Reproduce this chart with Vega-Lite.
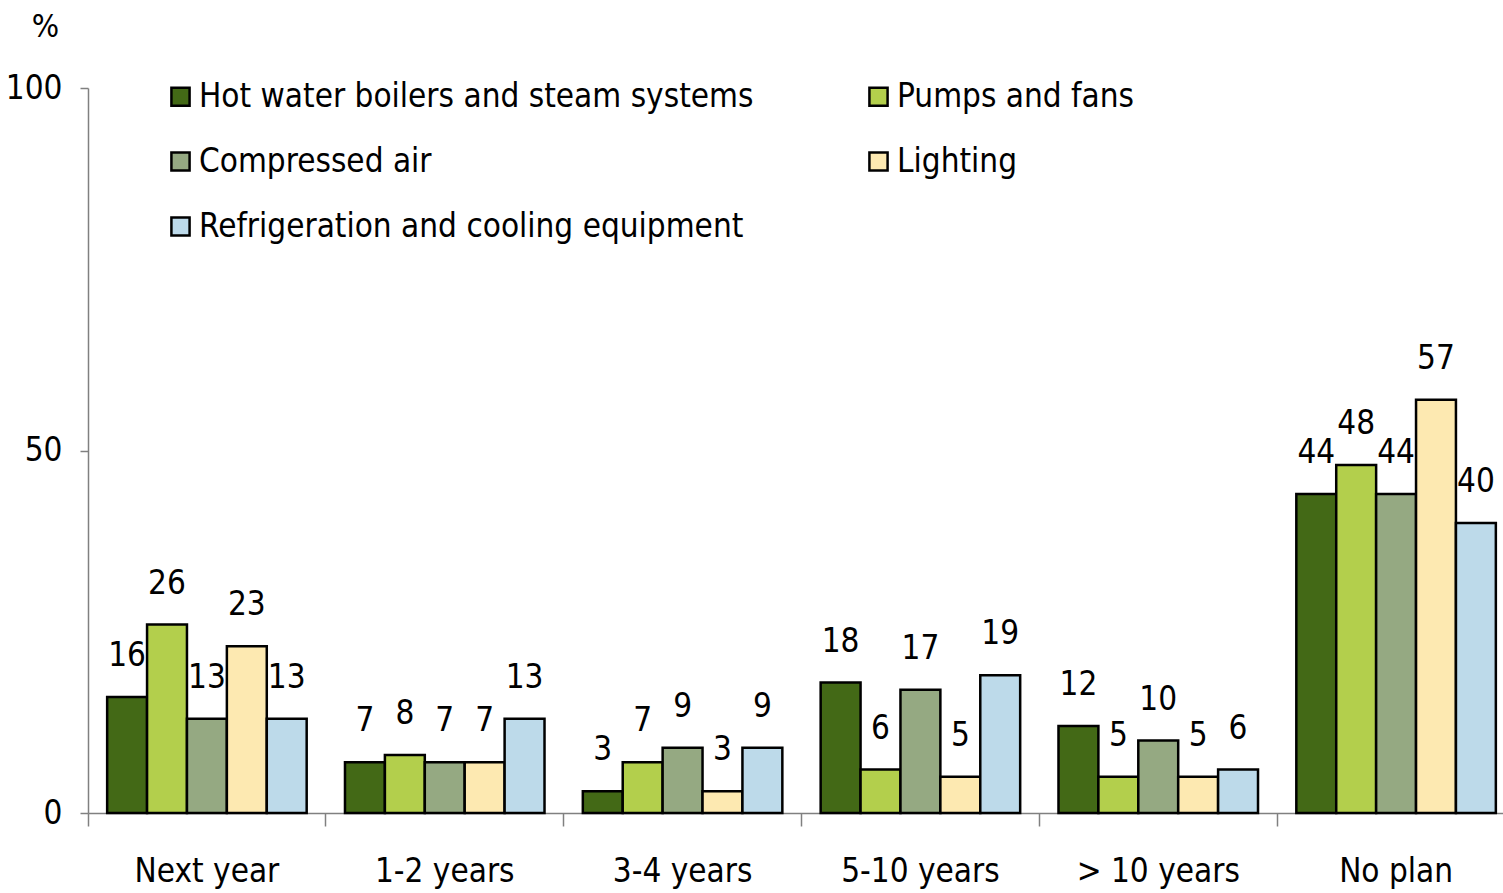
{
  "$schema": "https://vega.github.io/schema/vega-lite/v6.json",
  "width": 1427,
  "height": 725,
  "autosize": "none",
  "padding": {"left": 88, "top": 88, "right": -12, "bottom": 80},
  "background": "white",
  "config": {
    "view": {"stroke": null},
    "font": "DejaVu Sans Condensed, Liberation Sans"
  },
  "data": {
    "values": [
      {"period": "Next year", "type": "Hot water boilers and steam systems", "value": 16},
      {"period": "Next year", "type": "Pumps and fans", "value": 26},
      {"period": "Next year", "type": "Compressed air", "value": 13},
      {"period": "Next year", "type": "Lighting", "value": 23},
      {"period": "Next year", "type": "Refrigeration and cooling equipment", "value": 13},
      {"period": "1-2 years", "type": "Hot water boilers and steam systems", "value": 7},
      {"period": "1-2 years", "type": "Pumps and fans", "value": 8},
      {"period": "1-2 years", "type": "Compressed air", "value": 7},
      {"period": "1-2 years", "type": "Lighting", "value": 7},
      {"period": "1-2 years", "type": "Refrigeration and cooling equipment", "value": 13},
      {"period": "3-4 years", "type": "Hot water boilers and steam systems", "value": 3},
      {"period": "3-4 years", "type": "Pumps and fans", "value": 7},
      {"period": "3-4 years", "type": "Compressed air", "value": 9},
      {"period": "3-4 years", "type": "Lighting", "value": 3},
      {"period": "3-4 years", "type": "Refrigeration and cooling equipment", "value": 9},
      {"period": "5-10 years", "type": "Hot water boilers and steam systems", "value": 18},
      {"period": "5-10 years", "type": "Pumps and fans", "value": 6},
      {"period": "5-10 years", "type": "Compressed air", "value": 17},
      {"period": "5-10 years", "type": "Lighting", "value": 5},
      {"period": "5-10 years", "type": "Refrigeration and cooling equipment", "value": 19},
      {"period": "> 10 years", "type": "Hot water boilers and steam systems", "value": 12},
      {"period": "> 10 years", "type": "Pumps and fans", "value": 5},
      {"period": "> 10 years", "type": "Compressed air", "value": 10},
      {"period": "> 10 years", "type": "Lighting", "value": 5},
      {"period": "> 10 years", "type": "Refrigeration and cooling equipment", "value": 6},
      {"period": "No plan", "type": "Hot water boilers and steam systems", "value": 44},
      {"period": "No plan", "type": "Pumps and fans", "value": 48},
      {"period": "No plan", "type": "Compressed air", "value": 44},
      {"period": "No plan", "type": "Lighting", "value": 57},
      {"period": "No plan", "type": "Refrigeration and cooling equipment", "value": 40}
    ]
  },
  "encoding": {
    "x": {
      "field": "period",
      "type": "nominal",
      "sort": null,
      "scale": {"paddingInner": 0, "paddingOuter": 0},
      "axis": {
        "title": null,
        "bandPosition": 0,
        "labelAngle": 0,
        "labelFontSize": 33,
        "labelColor": "black",
        "labelPadding": 29,
        "tickSize": 13,
        "tickColor": "#808080",
        "domainColor": "#808080",
        "tickWidth": 1.5,
        "domainWidth": 1.5
      }
    },
    "xOffset": {
      "field": "type",
      "type": "nominal",
      "sort": ["Hot water boilers and steam systems", "Pumps and fans", "Compressed air", "Lighting", "Refrigeration and cooling equipment"],
      "scale": {"paddingInner": 0, "paddingOuter": 0.48}
    },
    "y": {
      "field": "value",
      "type": "quantitative",
      "scale": {"domain": [0, 100]},
      "axis": {
        "title": "%",
        "titleAngle": 0,
        "titleX": -43,
        "titleY": -62,
        "titleAlign": "center",
        "titleBaseline": "middle",
        "titleFontSize": 32,
        "titleFontWeight": "normal",
        "titleColor": "black",
        "values": [0, 50, 100],
        "grid": false,
        "tickSize": 8,
        "tickColor": "#808080",
        "domainColor": "#808080",
        "tickWidth": 1.5,
        "domainWidth": 1.5,
        "labelFontSize": 33,
        "labelColor": "black",
        "labelPadding": 18
      }
    }
  },
  "layer": [
    {
      "mark": {"type": "bar", "stroke": "black", "strokeWidth": 2.5},
      "encoding": {
        "color": {
          "field": "type",
          "type": "nominal",
          "scale": {
            "domain": ["Hot water boilers and steam systems", "Compressed air", "Refrigeration and cooling equipment", "Pumps and fans", "Lighting"],
            "range": ["#436916", "#95A982", "#BDDAEA", "#B3CF4C", "#FDE9B1"]
          },
          "legend": {
            "title": null,
            "orient": "none",
            "legendX": 76,
            "legendY": -8,
            "columns": 2,
            "columnPadding": 108,
            "rowPadding": 31,
            "symbolType": "square",
            "symbolSize": 330,
            "symbolStrokeColor": "black",
            "symbolStrokeWidth": 2.5,
            "symbolOpacity": 1,
            "labelFontSize": 33,
            "labelColor": "black",
            "labelOffset": 2,
            "labelLimit": 1000
          }
        }
      }
    },
    {
      "mark": {"type": "text", "baseline": "alphabetic", "dy": -31, "fontSize": 33, "color": "black"},
      "encoding": {
        "text": {"field": "value", "type": "quantitative"}
      }
    }
  ]
}
